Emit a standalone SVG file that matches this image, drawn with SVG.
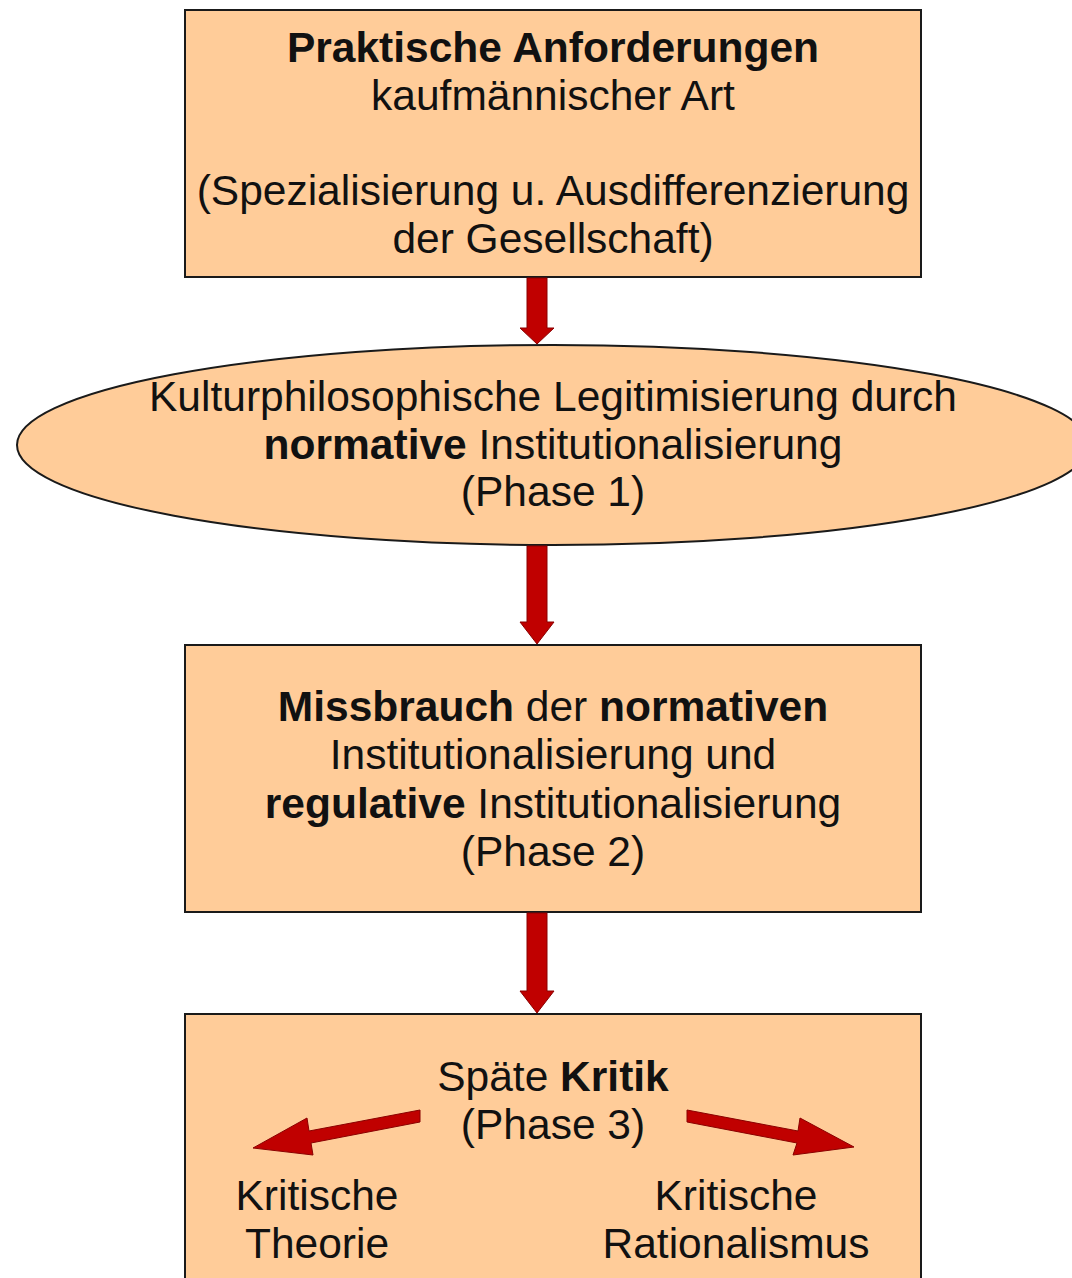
<svg xmlns="http://www.w3.org/2000/svg" width="1072" height="1278" viewBox="0 0 1072 1278">
  <style>
    .node { fill: #FFCC99; stroke: #1a1a1a; stroke-width: 2; }
    .t { font-family: "Liberation Sans", Arial, sans-serif; font-size: 42.5px; fill: #111; text-anchor: middle; }
    .b { font-weight: bold; }
    .arrow { fill: #C00000; stroke: #8a0000; stroke-width: 1; stroke-linejoin: miter; }
  </style>
  <rect width="1072" height="1278" fill="#ffffff"/>

  <g id="node-anforderungen">
    <rect class="node" x="185" y="10" width="736" height="267"/>
    <text class="t" x="553" y="62"><tspan class="b">Praktische Anforderungen</tspan></text>
    <text class="t" x="553" y="110">kaufmännischer Art</text>
    <text class="t" x="553" y="205">(Spezialisierung u. Ausdifferenzierung</text>
    <text class="t" x="553" y="253">der Gesellschaft)</text>
  </g>

  <g id="node-phase1">
    <ellipse class="node" cx="553" cy="445" rx="536" ry="100"/>
    <text class="t" x="553" y="411">Kulturphilosophische Legitimisierung durch</text>
    <text class="t" x="553" y="459"><tspan class="b">normative</tspan> Institutionalisierung</text>
    <text class="t" x="553" y="506">(Phase 1)</text>
  </g>

  <g id="node-phase2">
    <rect class="node" x="185" y="645" width="736" height="267"/>
    <text class="t" x="553" y="721"><tspan class="b">Missbrauch</tspan> der <tspan class="b">normativen</tspan></text>
    <text class="t" x="553" y="769">Institutionalisierung und</text>
    <text class="t" x="553" y="818"><tspan class="b">regulative</tspan> Institutionalisierung</text>
    <text class="t" x="553" y="866">(Phase 2)</text>
  </g>

  <g id="node-phase3">
    <rect class="node" x="185" y="1014" width="736" height="280"/>
    <text class="t" x="553" y="1091">Späte <tspan class="b">Kritik</tspan></text>
    <text class="t" x="553" y="1139">(Phase 3)</text>
    <text class="t" x="317" y="1210">Kritische</text>
    <text class="t" x="317" y="1258">Theorie</text>
    <text class="t" x="736" y="1210">Kritische</text>
    <text class="t" x="736" y="1258">Rationalismus</text>
  </g>

  <g id="connectors">
    <!-- vertical block arrows between the stages -->
    <polygon class="arrow" points="527,278 547,278 547,328 554,328 537,344 520,328 527,328"/>
    <polygon class="arrow" points="527,546 547,546 547,622 554,622 537,644 520,622 527,622"/>
    <polygon class="arrow" points="527,913 547,913 547,991 554,991 537,1013 520,991 527,991"/>
    <!-- diagonal arrows from the critique stage -->
    <polygon class="arrow" points="420,1110 420,1122 311,1143 313,1155 253,1148 307,1118 309,1131"/>
    <polygon class="arrow" points="687,1110 687,1122 797,1143 793,1155 854,1147 800,1118 798,1131"/>
  </g>
</svg>
